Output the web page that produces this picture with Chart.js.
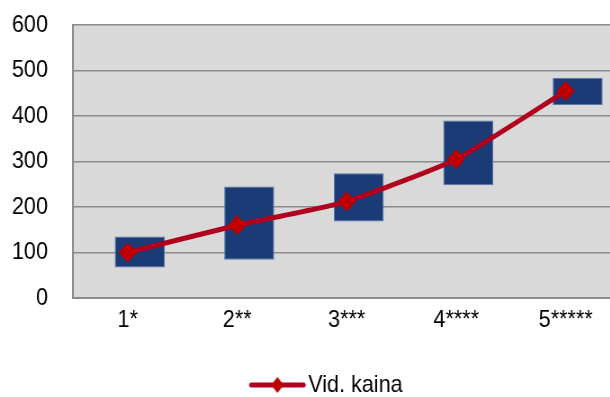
<!DOCTYPE html>
<html><head><meta charset="utf-8">
<script src="https://cdn.jsdelivr.net/npm/chart.js@4.4.1/dist/chart.umd.min.js"></script>
<style>
html,body{margin:0;padding:0;overflow:hidden;background:#fff;width:610px;height:397px}
canvas{display:block;transform:scaleX(0.9);transform-origin:0 0}
</style></head><body>
<canvas id="c" width="731" height="407"></canvas>
<script>
// ---- data ----
const categories = ['1*', '2**', '3***', '4****', '5*****'];
const rangeLow  = [67, 84, 168, 248, 424];
const rangeHigh = [135, 245, 274, 390, 484];
const avgPrice  = [100, 160, 212, 305, 455];
const seriesName = 'Vid. kaina';
const yMin = 0, yMax = 600, yStep = 100;

// ---- style ----
const FONT = "'Liberation Sans', Arial, sans-serif";
const LINE_COLOR = '#B0001E';
const MARK_COLOR = '#C00000';
const BAR_COLOR = '#1B3B77';
const GRID = '#8c8c8c';

// legend sample: line with diamond (drawn at the right part of a wider transparent image)
const legendImg = document.createElement('canvas');
legendImg.width = 110; legendImg.height = 18;
(function(){
  const g = legendImg.getContext('2d');
  g.strokeStyle = LINE_COLOR; g.lineWidth = 5; g.lineCap = 'round';
  g.beginPath(); g.moveTo(48, 9); g.lineTo(106, 9); g.stroke();
  g.fillStyle = MARK_COLOR;
  g.beginPath(); g.moveTo(77, 1); g.lineTo(84, 9); g.lineTo(77, 17); g.lineTo(70, 9); g.closePath(); g.fill();
})();

const plotBg = {
  id: 'plotBg',
  beforeDraw(chart) {
    const {ctx, chartArea: a} = chart;
    ctx.save();
    ctx.fillStyle = '#d9d9d9';
    ctx.fillRect(a.left, a.top, a.right - a.left, a.bottom - a.top);
    ctx.restore();
  }
};

new Chart(document.getElementById('c'), {
  data: {
    labels: categories,
    datasets: [
      {
        type: 'line', label: seriesName, data: avgPrice,
        borderColor: LINE_COLOR, borderWidth: 5, tension: 0.15,
        pointStyle: 'rectRot', pointRadius: 9.5, pointHoverRadius: 9.5,
        pointBackgroundColor: MARK_COLOR, pointBorderColor: MARK_COLOR, pointBorderWidth: 1,
        order: 0
      },
      {
        type: 'bar', label: 'spacer', data: categories.map(() => null),
        categoryPercentage: 0.438, barPercentage: 2.083, order: 1
      },
      {
        type: 'bar', label: 'range', data: rangeLow.map((v, i) => [v, rangeHigh[i]]),
        backgroundColor: BAR_COLOR, borderColor: '#5577aa', borderWidth: 1, borderSkipped: false,
        categoryPercentage: 0.438, barPercentage: 2.083, order: 2
      }
    ]
  },
  options: {
    responsive: false,
    animation: false,
    devicePixelRatio: 1,
    layout: { padding: { left: 0, right: 41.6, top: 25, bottom: 0 } },
    plugins: {
      tooltip: { enabled: false },
      legend: {
        position: 'bottom',
        labels: {
          usePointStyle: true, pointStyle: legendImg, pointStyleWidth: 88.4,
          color: '#000', font: { family: FONT, size: 24 }, padding: 10,
          filter: (item) => item.datasetIndex === 0
        }
      }
    },
    scales: {
      x: {
        grid: { display: false, drawTicks: false },
        border: { display: true, color: GRID, width: 2 },
        ticks: { color: '#000', font: { family: FONT, size: 24 }, padding: 8 },
        afterFit(s) { s.height = 65; s.paddingLeft = 0; s.paddingRight = 0; }
      },
      y: {
        min: yMin, max: yMax,
        ticks: { stepSize: yStep, color: '#000', font: { family: FONT, size: 24 }, padding: 27.8 },
        grid: { color: GRID, lineWidth: 1.5, drawTicks: false },
        border: { display: true, color: GRID, width: 2 },
        afterFit(s) { s.width = 81.1; s.paddingTop = 0; s.paddingBottom = 0; }
      }
    }
  },
  plugins: [plotBg]
});
</script>
</body></html>
